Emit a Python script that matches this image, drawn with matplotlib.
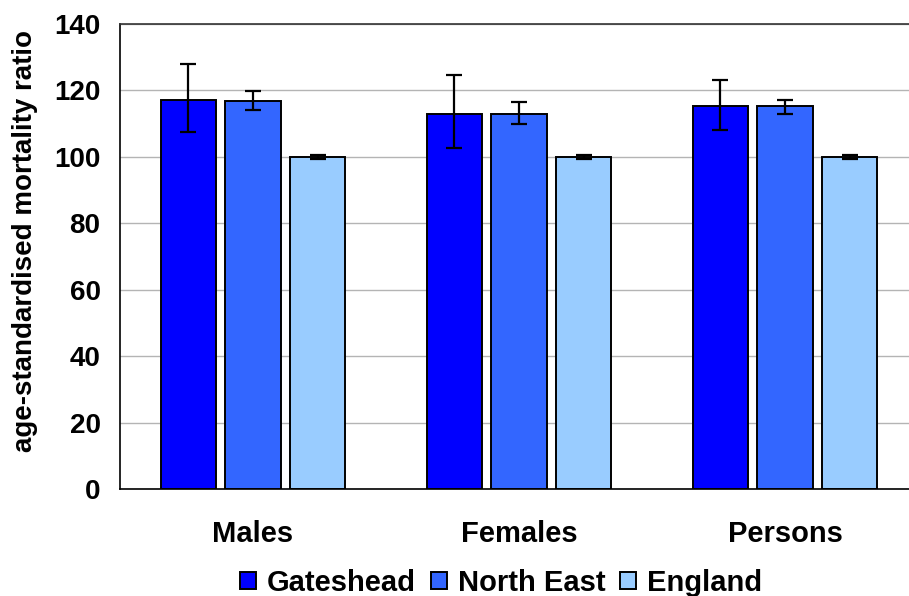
import matplotlib
matplotlib.use("Agg")
import matplotlib.pyplot as plt
import numpy as np

plt.rcParams['font.family'] = ['Liberation Sans', 'DejaVu Sans']
plt.rcParams['font.weight'] = 'bold'

groups = ['Males', 'Females', 'Persons']
series = ['Gateshead', 'North East', 'England']
colors = ['#0000FF', '#3366FF', '#99CCFF']

# ratio, lower CI, upper CI
gateshead = [117.2, 112.9, 115.4]
gateshead_lo = [107.5, 102.7, 108.1]
gateshead_hi = [128.1, 124.5, 123.2]

north_east = [116.7, 112.9, 115.4]
north_east_lo = [114.2, 109.9, 112.9]
north_east_hi = [119.7, 116.6, 117.2]

england = [100, 100, 100]
england_lo = [99.4, 99.4, 99.4]
england_hi = [100.6, 100.6, 100.6]

vals = [gateshead, north_east, england]
los = [gateshead_lo, north_east_lo, england_lo]
his = [gateshead_hi, north_east_hi, england_hi]

fig = plt.figure(figsize=(9.09, 5.96), dpi=100)
ax = fig.add_axes([120/909, 1 - 489/596, 798/909, 465/596])

x = np.arange(len(groups))
width = 0.207
offset = 0.244
for i, name in enumerate(series):
    v = np.array(vals[i])
    err = [v - np.array(los[i]), np.array(his[i]) - v]
    ax.bar(x + (i - 1) * offset, v, width, color=colors[i], edgecolor='black',
           linewidth=1.4, label=name, zorder=2)
    ax.errorbar(x + (i - 1) * offset, v, yerr=err, fmt='none', ecolor='black',
                elinewidth=1.6, capsize=5.8, capthick=1.6, zorder=3)

ax.set_xlim(-0.5, 2.5)
ax.set_ylim(0, 140)
ax.set_yticks(range(0, 141, 20))
ax.yaxis.grid(True, color='#B4B4B4', linewidth=1)
ax.set_axisbelow(True)
ax.set_xticks(x)
ax.set_xticklabels(groups, fontweight='bold')
ax.tick_params(axis='both', length=0, labelsize=20)
ax.tick_params(axis='x', labelsize=21, pad=22)
ax.tick_params(axis='y', pad=14)
for t in ax.get_yticklabels():
    t.set_fontweight('bold')
ax.set_ylabel('age-standardised mortality ratio', fontsize=20, fontweight='bold')
ax.yaxis.set_label_coords(-0.103, 0.533)
for s in ax.spines.values():
    s.set_color('black')
    s.set_linewidth(1.2)
ax.spines['top'].set_color('#333333')
ax.spines['right'].set_visible(False)

fig.legend(loc='center', bbox_to_anchor=(501/909, 1 - 583/596), ncol=3, frameon=False,
           handlelength=0.55, handleheight=0.55, handletextpad=0.38,
           columnspacing=0.51, prop={'weight': 'bold', 'size': 21})

fig.savefig('out.png', dpi=100)
